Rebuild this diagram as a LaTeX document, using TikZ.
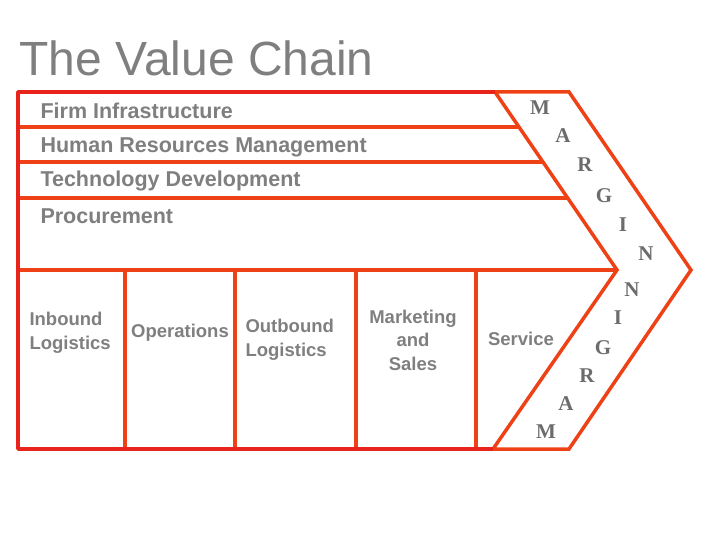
\documentclass[tikz,border=0pt]{standalone}
\usepackage{fontspec}
\setmainfont{Liberation Sans}
\newfontfamily\serifm{Liberation Serif}
\definecolor{fr}{HTML}{E8231B}
\definecolor{orn}{HTML}{EE4216}
\definecolor{tg}{HTML}{7F7F7F}
\begin{document}
\begin{tikzpicture}[x=1pt,y=-1pt,
 sup/.style={anchor=west,text=tg,font=\bfseries\fontsize{21.5}{22}\selectfont},
 prim/.style={text=tg,font=\bfseries\fontsize{18.5}{23.5}\selectfont,align=center},
 let/.style={text=tg!85!black,font=\serifm\bfseries\fontsize{21}{22}\selectfont},
 ln/.style={draw=orn,line width=3.5pt}]
\useasboundingbox (0,0) rectangle (720,540);
\node[anchor=west,text=tg,font=\fontsize{48}{52}\selectfont] (title) at (16,58) {The Value Chain};
% chevron band
\coordinate (it) at (495,92); \coordinate (ip) at (617,270); \coordinate (ib) at (493,449);
\coordinate (ot) at (569,92); \coordinate (op) at (691,270); \coordinate (ob) at (569,449);
\draw[ln,line join=miter] (it) -- (ot) -- (op) -- (ob) -- (ib) -- (ip) -- cycle;
% horizontal lines
\coordinate (h1l) at (18,127); \coordinate (h1r) at (519,127);
\coordinate (h2l) at (18,162); \coordinate (h2r) at (543,162);
\coordinate (h3l) at (18,198); \coordinate (h3r) at (568,198);
\coordinate (h4l) at (18,270);
\draw[ln] (h1l) -- (h1r); \draw[ln] (h2l) -- (h2r); \draw[ln] (h3l) -- (h3r);
\draw[ln] (h4l) -- (ip);
% verticals
\foreach \x/\n in {125/a,235/b,356/c,476/d}{
  \coordinate (\n t) at (\x,270); \coordinate (\n b) at (\x,449);
  \draw[ln] (\n t) -- (\n b);}
% frame
\draw[draw=fr,line width=3.5pt,line join=round] (it) -- (18,92) -- (18,449) -- (ib);
% support texts
\node[sup] (fi) at (37,111) {Firm Infrastructure};
\node[sup] (hr) at (37,147) {Human Resources Management};
\node[sup] (td) at (37,181) {Technology Development};
\node[sup] (pr) at (37,216) {Procurement};
% primary
\node[prim,align=left,anchor=west] (il) at (26,333) {Inbound\\Logistics};
\node[prim] (opn) at (180,333) {Operations};
\node[prim,align=left,anchor=west] (ol) at (242,340) {Outbound\\Logistics};
\node[prim] (ms) at (413,340) {Marketing\\and\\Sales};
\node[prim] (sv) at (521,339) {Service};
% margin letters
\foreach \t/\x/\y/\n in {M/540/108/m1,A/563/136/m2,R/585/165/m3,G/604/196/m4,I/623/225/m5,N/646/254/m6,N/632/290/m7,I/618/318/m8,G/603/348/m9,R/587/376/m10,A/566/404/m11,M/546/432/m12}
  \node[let] (\n) at (\x,\y) {\t};
\end{tikzpicture}
\end{document}
